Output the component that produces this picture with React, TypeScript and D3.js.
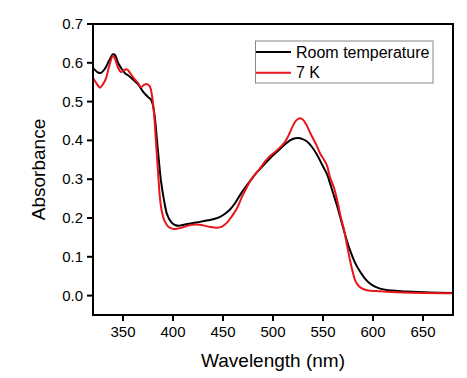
import React from "react";
import * as d3 from "d3";

const roomWl = [320, 325, 328, 332, 336, 340, 342, 345, 348, 352, 356, 360, 365, 370, 375, 378, 380, 382, 384, 386, 388, 391, 394, 398, 402, 406, 412, 420, 427, 435, 442, 447, 452, 457, 462, 467, 472, 477, 482, 487, 492, 497, 502, 507, 512, 517, 521, 525, 529, 534, 539, 544, 549, 554, 557, 560, 564, 568, 572, 577, 582, 587, 592, 597, 602, 607, 615, 624, 640, 657, 680];
const roomAbs = [0.587, 0.575, 0.574, 0.585, 0.605, 0.622, 0.620, 0.600, 0.587, 0.573, 0.566, 0.557, 0.545, 0.526, 0.512, 0.505, 0.490, 0.455, 0.400, 0.345, 0.295, 0.246, 0.210, 0.190, 0.182, 0.180, 0.183, 0.187, 0.190, 0.194, 0.198, 0.203, 0.211, 0.222, 0.238, 0.259, 0.278, 0.295, 0.312, 0.326, 0.340, 0.354, 0.366, 0.378, 0.390, 0.400, 0.405, 0.406, 0.404, 0.397, 0.383, 0.363, 0.338, 0.313, 0.290, 0.265, 0.232, 0.195, 0.158, 0.117, 0.085, 0.062, 0.044, 0.031, 0.023, 0.018, 0.014, 0.012, 0.010, 0.008, 0.007];

const coldWl = [320, 324, 327, 330, 333, 336, 340, 342, 345, 348, 351, 354, 357, 361, 365, 368, 371, 374, 377, 379, 381, 383, 385, 387, 389, 392, 396, 400, 404, 410, 417, 424, 430, 437, 444, 449, 454, 459, 464, 469, 474, 477, 482, 487, 492, 497, 502, 507, 511, 514, 517, 520, 523, 527, 530, 533, 536, 539, 543, 547, 551, 554, 557, 561, 564, 568, 571, 574, 577, 580, 582, 585, 588, 594, 607, 630, 680];
const coldAbs = [0.561, 0.545, 0.536, 0.545, 0.560, 0.590, 0.618, 0.610, 0.588, 0.576, 0.581, 0.583, 0.574, 0.560, 0.548, 0.537, 0.543, 0.545, 0.538, 0.515, 0.470, 0.395, 0.320, 0.250, 0.215, 0.190, 0.176, 0.172, 0.172, 0.176, 0.182, 0.183, 0.181, 0.177, 0.175, 0.178, 0.188, 0.205, 0.225, 0.255, 0.280, 0.294, 0.312, 0.328, 0.345, 0.360, 0.370, 0.382, 0.393, 0.405, 0.421, 0.438, 0.451, 0.457, 0.453, 0.442, 0.426, 0.410, 0.390, 0.367, 0.350, 0.335, 0.305, 0.278, 0.248, 0.200, 0.170, 0.130, 0.091, 0.058, 0.040, 0.027, 0.020, 0.014, 0.011, 0.008, 0.006];

const xTicks = [350, 400, 450, 500, 550, 600, 650];
const yTicks = [0.0, 0.1, 0.2, 0.3, 0.4, 0.5, 0.6, 0.7];
const seriesNames = ["Room temperature", "7 K"];
const seriesColors = ["#000000", "#e8151b"];

const W = 467, H = 378;
const L = 93, R = 453, T = 24, B = 315;
const FONT = "'Liberation Sans', Arial, sans-serif";

export default function App() {
  const x = d3.scaleLinear().domain([320, 680]).range([L, R]);
  const y = d3.scaleLinear().domain([-0.05, 0.7]).range([B, T]);
  const line = d3
    .line<[number, number]>()
    .x((d) => x(d[0]))
    .y((d) => y(d[1]))
    .curve(d3.curveCatmullRom.alpha(0.5));
  const series = [
    roomWl.map((w, i) => [w, roomAbs[i]] as [number, number]),
    coldWl.map((w, i) => [w, coldAbs[i]] as [number, number]),
  ];
  return (
    <svg width={W} height={H} style={{ position: "absolute", left: 0, top: 0, background: "#fff" }} fontFamily={FONT}>
      <defs>
        <clipPath id="plot">
          <rect x={L} y={T} width={R - L} height={B - T} />
        </clipPath>
      </defs>
      <g clipPath="url(#plot)">
        {[0, 1].map((i) => (
          <path key={i} d={line(series[i]) || ""} fill="none" stroke={seriesColors[i]} strokeWidth={2} strokeLinejoin="round" />
        ))}
      </g>
      <rect x={L} y={T} width={R - L} height={B - T} fill="none" stroke="#000" strokeWidth={2} />
      {xTicks.map((t) => (
        <g key={t}>
          <line x1={x(t)} x2={x(t)} y1={B} y2={B + 6} stroke="#000" strokeWidth={2} />
          <text x={x(t)} y={337} textAnchor="middle" fontSize={15}>{t}</text>
        </g>
      ))}
      {yTicks.map((t) => (
        <g key={t}>
          <line x1={L - 6} x2={L} y1={y(t)} y2={y(t)} stroke="#000" strokeWidth={2} />
          <text x={83} y={y(t) + 5} textAnchor="end" fontSize={15}>{t.toFixed(1)}</text>
        </g>
      ))}
      <text x={(L + R) / 2} y={367} textAnchor="middle" fontSize={19}>Wavelength (nm)</text>
      <text transform={`translate(45,${(T + B) / 2}) rotate(-90)`} textAnchor="middle" fontSize={19}>Absorbance</text>
      <rect x={255.5} y={41} width={177.5} height={42} fill="#fff" stroke="#888" strokeWidth={1} />
      {seriesNames.map((n, i) => (
        <g key={n}>
          <line x1={256} x2={291} y1={52 + i * 20.7} y2={52 + i * 20.7} stroke={seriesColors[i]} strokeWidth={2} />
          <text x={296} y={57.5 + i * 20.7} fontSize={16}>{n}</text>
        </g>
      ))}
    </svg>
  );
}
